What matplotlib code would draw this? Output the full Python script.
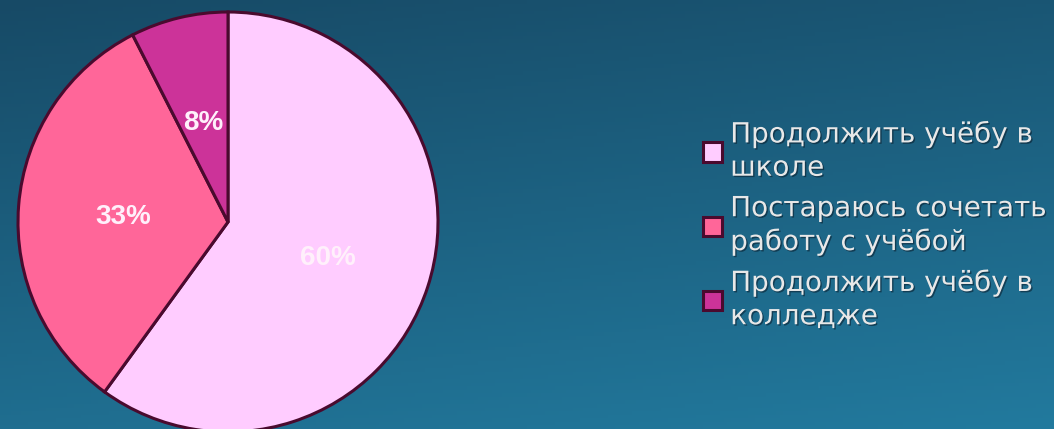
import numpy as np
import matplotlib
matplotlib.use("Agg")
import matplotlib.pyplot as plt
import matplotlib.patheffects as pe

# данные диаграммы (доли читаются по углам секторов)
categories = ["Продолжить учёбу в\nшколе",
              "Постараюсь сочетать\nработу с учёбой",
              "Продолжить учёбу в\nколледже"]
shares = [60, 32.5, 7.5]
pct_labels = ["60%", "33%", "8%"]
colors = ["#ffccff", "#ff6699", "#cc3399"]

W, H = 1054, 429
fig = plt.figure(figsize=(W / 100, H / 100), dpi=100)

# фон: градиент от тёмного сверху слева к светлому снизу справа
bg = fig.add_axes([0, 0, 1, 1])
gx, gy = np.meshgrid(np.linspace(0, 1, 300), np.linspace(0, 1, 120))
t = np.clip(0.75 * gy + 0.25 * gx, 0, 1)
c_top = np.array([0x17, 0x4a, 0x66]) / 255
c_bot = np.array([0x22, 0x7a, 0x9e]) / 255
img = c_top[None, None, :] * (1 - t[..., None]) + c_bot[None, None, :] * t[..., None]
bg.imshow(img, aspect="auto", extent=[0, 1, 0, 1], origin="upper")
bg.axis("off")

# круговая диаграмма
cx, cy, r = 228, 222, 210
ax = fig.add_axes([(cx - r) / W, (H - cy - r) / H, 2 * r / W, 2 * r / H])
wedges, _ = ax.pie(shares, colors=colors, startangle=90, counterclock=False,
                   wedgeprops=dict(edgecolor="#4a0a2e", linewidth=2.2))
for w, lab in zip(wedges, pct_labels):
    ang = np.deg2rad((w.theta1 + w.theta2) / 2)
    ax.text(0.5 * np.cos(ang), 0.5 * np.sin(ang) - 0.015, lab, ha="center", va="center",
            fontsize=20, fontweight="bold", color="#fff0fb",
            family=["Liberation Sans", "DejaVu Sans"])
ax.set_xlim(-1, 1)
ax.set_ylim(-1, 1)
ax.set_aspect("equal")
ax.axis("off")

# легенда
leg = fig.legend(wedges, categories, loc="upper left",
                 bbox_to_anchor=(703 / W, 1 - 120 / H), frameon=False,
                 fontsize=20, labelcolor="#e8e8e8", handlelength=0.7,
                 handleheight=0.7, handletextpad=0.28, labelspacing=0.45,
                 borderpad=0, borderaxespad=0)
for txt in leg.get_texts():
    txt.set_linespacing(1.24)
    txt.set_path_effects([pe.withSimplePatchShadow(offset=(1, -1), shadow_rgbFace="#0a2030", alpha=0.6)])

fig.savefig("out.png", dpi=100)
